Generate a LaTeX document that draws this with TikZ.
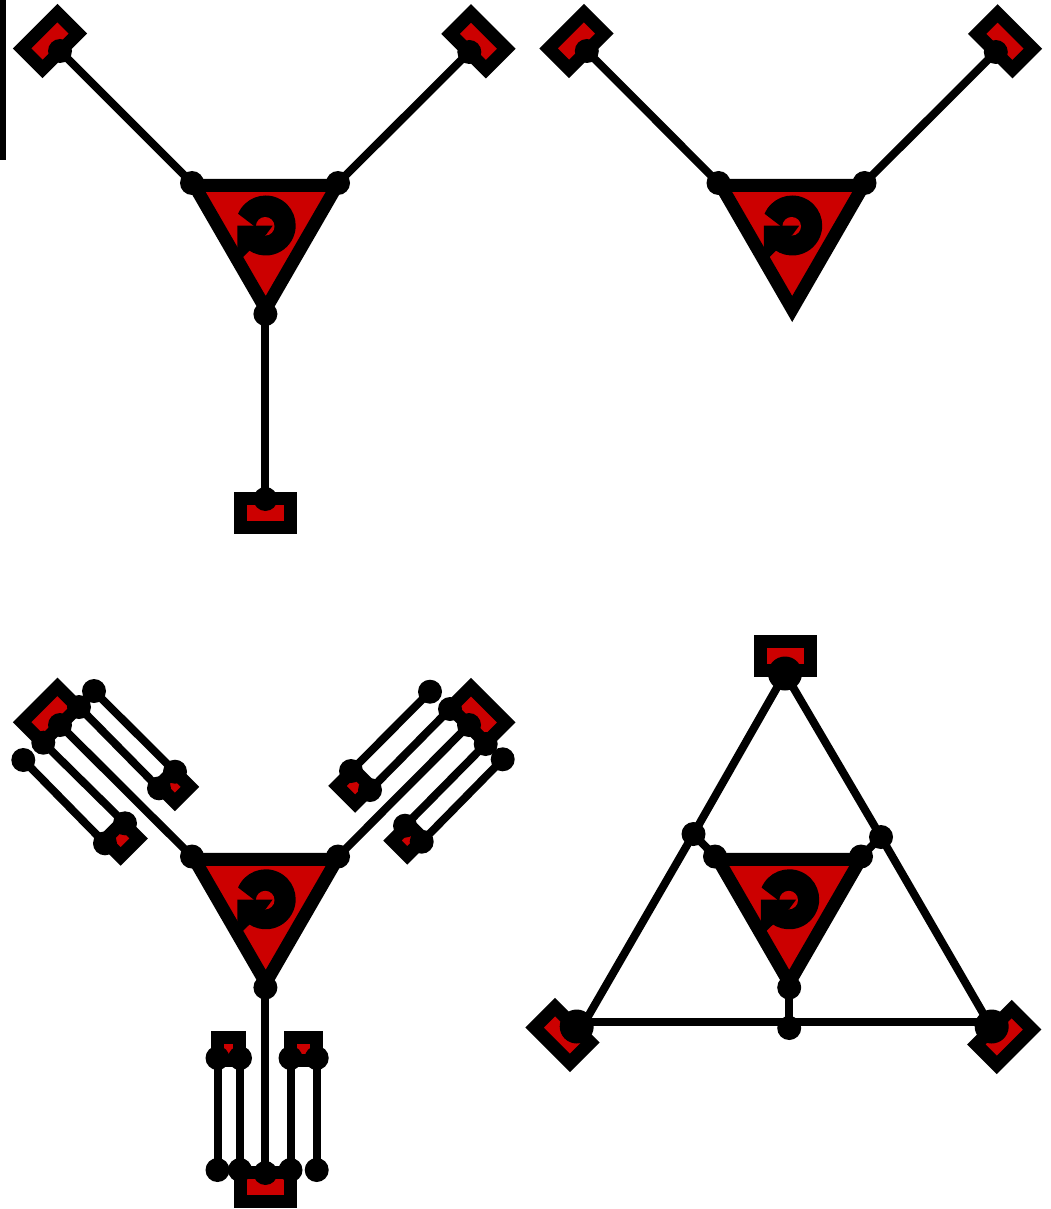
\documentclass[tikz,border=0pt]{standalone}
\usepackage{tikz}
\usetikzlibrary{positioning, arrows.meta, calc}
\definecolor{unitred}{RGB}{204,0,0}
\tikzset{
  wire/.style={draw=black, line width=8pt},
  port/.style={circle, fill=black, inner sep=0pt, minimum size=24pt},
  bigport/.style={circle, fill=black, inner sep=0pt, minimum size=34pt},
  pad/.style={draw=black, fill=unitred, line width=13pt, inner sep=0pt,
              minimum width=50pt, minimum height=29pt},
  stub/.style={draw=black, fill=unitred, line width=13pt, inner sep=0pt,
              minimum height=23pt},
  unit/.pic={
    \fill[unitred] (-71.3,40) -- (71.3,40) -- (0,-83.5) -- cycle;
    \fill[black] (157:30) arc[start angle=157, end angle=-126, radius=30pt]
      -- (-12,-0.2) -- cycle;
    \fill[unitred] (-0.5,-0.8) circle[radius=9.3pt];
    \fill[black] (-28.4,-0.2) -- (7,-0.2) -- (0.5,-9) -- (-23.7,-32.5) -- (-28.4,-32.5) -- cycle;
    \draw[black, line width=13pt, miter limit=10] (-71.3,40) -- (71.3,40) -- (0,-83.5) -- cycle;
  }
}
\begin{document}
\begin{tikzpicture}[x=1pt, y=1pt]
  \useasboundingbox (0,0) rectangle (1050,-1209);
  \fill[black] (0,0) rectangle (6.3,-160);

  % upper left
  \node[pad, rotate=45]  (padAl) at (50,-41) {};
  \node[pad, rotate=-45] (padAr) at (478.4,-41.3) {};
  \node[pad]             (padAb) at (265.7,-513) {};
  \pic at (265.7,-225.5) {unit};
  \node[port] (endAl) at (60,-51) {};
  \node[port] (endAr) at (469.3,-52) {};
  \node[port] (endAb) at (265.4,-499) {};
  \node[port] (triAl) at (192,-183) {};
  \node[port] (triAr) at (338,-183) {};
  \node[port] (triAb) at (265.4,-314) {};
  \draw[wire] (endAl.center) -- (triAl.center);
  \draw[wire] (endAr.center) -- (triAr.center);
  \draw[wire] (endAb.center) -- (triAb.center);

  % upper right
  \node[pad, rotate=45]  (padBl) at (576.5,-41) {};
  \node[pad, rotate=-45] (padBr) at (1005,-41.3) {};
  \pic at (792.2,-225.5) {unit};
  \node[port] (endBl) at (586.8,-51) {};
  \node[port] (endBr) at (995.8,-52) {};
  \node[port] (triBl) at (718.5,-183) {};
  \node[port] (triBr) at (864.5,-183) {};
  \draw[wire] (endBl.center) -- (triBl.center);
  \draw[wire] (endBr.center) -- (triBr.center);

  % lower left
  \node[pad, rotate=45]  (padCl) at (50,-714.7) {};
  \node[pad, rotate=-45] (padCr) at (478.4,-715) {};
  \node[pad]             (padCb) at (265.7,-1187.3) {};
  \node[stub, rotate=45,  minimum width=21.4pt] (stubCa) at (174.3,-786.3) {};
  \node[stub, rotate=45,  minimum width=25.5pt] (stubCb) at (121.5,-839.3) {};
  \node[stub, rotate=-45, minimum width=25pt]   (stubCc) at (354.4,-786.6) {};
  \node[stub, rotate=-45, minimum width=21pt]   (stubCd) at (408,-839.8) {};
  \node[stub, minimum width=21.7pt] (stubCe) at (228.4,-1049) {};
  \node[stub, minimum width=25.3pt] (stubCf) at (303.5,-1049) {};
  \pic at (265.7,-899.3) {unit};
  \node[port] (endCl) at (60,-725) {};
  \node[port] (endCr) at (469,-725) {};
  \node[port] (endCb) at (265.4,-1173) {};
  \node[port] (triCl) at (192,-856.5) {};
  \node[port] (triCr) at (338,-856.5) {};
  \node[port] (triCb) at (265.4,-987.5) {};
  \draw[wire] (endCl.center) -- (triCl.center);
  \draw[wire] (endCr.center) -- (triCr.center);
  \draw[wire] (endCb.center) -- (triCb.center);
  \node[port] (sideCa) at (94,-691) {};
  \node[port] (sideCb) at (79,-707) {};
  \node[port] (sideCc) at (43.3,-742.7) {};
  \node[port] (sideCd) at (23.3,-760) {};
  \node[port] (tipCa) at (175,-771.7) {};
  \node[port] (tipCb) at (159,-788.3) {};
  \node[port] (tipCc) at (125,-823.3) {};
  \node[port] (tipCd) at (105,-843.3) {};
  \draw[wire] (sideCa.center) -- (tipCa.center);
  \draw[wire] (sideCb.center) -- (tipCb.center);
  \draw[wire] (sideCc.center) -- (tipCc.center);
  \draw[wire] (sideCd.center) -- (tipCd.center);
  \node[port] (sideCe) at (430,-691.7) {};
  \node[port] (sideCf) at (450,-709) {};
  \node[port] (sideCg) at (485.7,-744) {};
  \node[port] (sideCh) at (502.7,-759.3) {};
  \node[port] (tipCe) at (351,-771) {};
  \node[port] (tipCf) at (370,-790) {};
  \node[port] (tipCg) at (405,-825.7) {};
  \node[port] (tipCh) at (421.7,-841.7) {};
  \draw[wire] (sideCe.center) -- (tipCe.center);
  \draw[wire] (sideCf.center) -- (tipCf.center);
  \draw[wire] (sideCg.center) -- (tipCg.center);
  \draw[wire] (sideCh.center) -- (tipCh.center);
  \node[port] (sideCi) at (217.5,-1170) {};
  \node[port] (sideCj) at (240,-1170) {};
  \node[port] (sideCk) at (290.5,-1170) {};
  \node[port] (sideCm) at (316.7,-1170) {};
  \node[port] (tipCi) at (217.5,-1058) {};
  \node[port] (tipCj) at (240,-1058) {};
  \node[port] (tipCk) at (290.5,-1058) {};
  \node[port] (tipCm) at (316.7,-1058) {};
  \draw[wire] (sideCi.center) -- (tipCi.center);
  \draw[wire] (sideCj.center) -- (tipCj.center);
  \draw[wire] (sideCk.center) -- (tipCk.center);
  \draw[wire] (sideCm.center) -- (tipCm.center);

  % lower right
  \node[pad]             (padDt) at (785,-656) {};
  \node[pad, rotate=-45] (padDl) at (562.5,-1035) {};
  \node[pad, rotate=45]  (padDr) at (1004.2,-1037) {};
  \pic at (789.2,-899.3) {unit};
  \node[bigport] (endDt) at (785,-673.5) {};
  \node[bigport] (endDl) at (576.7,-1026.5) {};
  \node[bigport] (endDr) at (991.7,-1026.5) {};
  \node[port] (midDl) at (693.5,-834) {};
  \node[port] (midDr) at (881,-837) {};
  \node[port] (midDb) at (789.2,-1028) {};
  \node[port] (triDl) at (715,-856.5) {};
  \node[port] (triDr) at (861,-856.5) {};
  \node[port] (triDb) at (789.2,-987.5) {};
  \coordinate (railDl) at (585,-1021.7);
  \coordinate (railDr) at (988,-1021.7);
  \draw[wire] (endDt.center) -- (midDl.center);
  \draw[wire] (endDt.center) -- (midDr.center);
  \draw[wire] (midDl.center) -- (railDl);
  \draw[wire] (midDr.center) -- (railDr);
  \draw[wire] (endDl.center |- railDl) -- (endDr.center |- railDr);
  \draw[wire] (midDl.center) -- (triDl.center);
  \draw[wire] (midDr.center) -- (triDr.center);
  \draw[wire] (midDb.center) -- (triDb.center);
\end{tikzpicture}
\end{document}
